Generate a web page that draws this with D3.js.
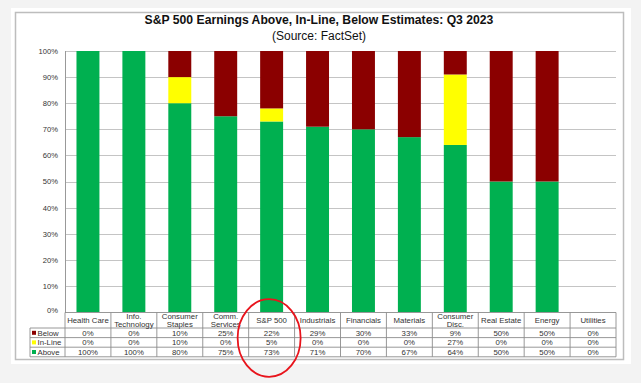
<!DOCTYPE html>
<html><head><meta charset="utf-8">
<script src="https://cdn.jsdelivr.net/npm/d3@7"></script>
<style>html,body{margin:0;padding:0;background:#f3f3f3;}svg{display:block;font-family:"Liberation Sans",Arial,sans-serif;}</style>
</head><body>
<svg id="c" width="641" height="383"></svg>
<script>
const categories = ["Health Care","Info. Technology","Consumer Staples","Comm. Services","S&P 500","Industrials","Financials","Materials","Consumer Disc.","Real Estate","Energy","Utilities"];
const headerLines = [["Health Care"],["Info.","Technology"],["Consumer","Staples"],["Comm.","Services"],["S&P 500"],["Industrials"],["Financials"],["Materials"],["Consumer","Disc."],["Real Estate"],["Energy"],["Utilities"]];
const below = [0,0,10,25,22,29,30,33,9,50,50,0];
const inLine = [0,0,10,0,5,0,0,0,27,0,0,0];
const above = [100,100,80,75,73,71,70,67,64,50,50,0];
const yTicks = [0,10,20,30,40,50,60,70,80,90,100];
const seriesNames = ["Below","In-Line","Above"];
const seriesColors = {"Above":"#00b050","In-Line":"#ffff00","Below":"#8b0000"};
const title = "S&P 500 Earnings Above, In-Line, Below Estimates: Q3 2023";
const subtitle = "(Source: FactSet)";

const svg = d3.select("#c");
// frame
svg.append("rect").attr("x",11).attr("y",8).attr("width",620).attr("height",356).attr("fill","#ffffff");
svg.append("rect").attr("x",15.5).attr("y",12.5).attr("width",608).attr("height",347).attr("fill","#ffffff").attr("stroke","#bdbdbd").attr("stroke-width",1.5);

svg.append("text").attr("x",319).attr("y",24).attr("text-anchor","middle").attr("font-size","12.2px").attr("font-weight","bold").attr("fill","#111").text(title);
svg.append("text").attr("x",319).attr("y",40).attr("text-anchor","middle").attr("font-size","12px").attr("fill","#111").text(subtitle);

const x = d3.scaleBand().domain(categories).range([65,616]).paddingInner(0.5).paddingOuter(0.25);
const xCell = d3.scaleBand().domain(categories).range([65,616]);
const y = d3.scaleLinear().domain([0,100]).range([312,51]);

// gridlines
svg.append("g").selectAll("line").data(yTicks.filter(t=>t>0)).join("line")
  .attr("x1",65).attr("x2",616).attr("y1",d=>Math.round(y(d))+0.5).attr("y2",d=>Math.round(y(d))+0.5)
  .attr("stroke","#c4c4c4").attr("stroke-width",1.2);

// y axis labels
const yAxis = d3.axisLeft(y).tickValues(yTicks).tickFormat(d=>d+"%").tickSize(0).tickPadding(7);
const ga = svg.append("g").attr("transform","translate(65,0)").call(yAxis);
ga.select(".domain").remove();
ga.selectAll("text").attr("font-size","7.6px").attr("fill","#333").attr("font-family","Liberation Sans, Arial, sans-serif");
ga.selectAll(".tick").filter(d=>d===0).select("text").attr("dy","0.1em");

// stacked bars
const rows = categories.map((c,i)=>({cat:c,"Above":above[i],"In-Line":inLine[i],"Below":below[i]}));
const stack = d3.stack().keys(["Above","In-Line","Below"])(rows);
svg.append("g").selectAll("g").data(stack).join("g").attr("fill",d=>seriesColors[d.key])
  .selectAll("rect").data(d=>d).join("rect")
  .attr("x",d=>x(d.data.cat)).attr("width",x.bandwidth())
  .attr("y",d=>y(d[1])).attr("height",d=>y(d[0])-y(d[1]));

// axis lines
svg.append("line").attr("x1",65.5).attr("x2",65.5).attr("y1",51).attr("y2",313).attr("stroke","#999");

// data table
const tTop = 312.5, hdrBot = 328, rowH = 9.6;
const tg = svg.append("g");
const lineColor = "#8c8c8c";
// horizontal lines
[tTop, hdrBot, hdrBot+rowH, hdrBot+2*rowH, hdrBot+3*rowH].forEach((yy,k)=>{
  tg.append("line").attr("x1",k===0?65:30).attr("x2",616).attr("y1",yy).attr("y2",yy).attr("stroke",lineColor).attr("stroke-width",0.9);
});
// vertical lines
categories.forEach((c,i)=>{
  tg.append("line").attr("x1",xCell(c)).attr("x2",xCell(c)).attr("y1",tTop).attr("y2",hdrBot+3*rowH).attr("stroke",lineColor).attr("stroke-width",0.9);
});
tg.append("line").attr("x1",616).attr("x2",616).attr("y1",tTop).attr("y2",hdrBot+3*rowH).attr("stroke",lineColor).attr("stroke-width",0.9);
tg.append("line").attr("x1",30).attr("x2",30).attr("y1",hdrBot).attr("y2",hdrBot+3*rowH).attr("stroke",lineColor).attr("stroke-width",0.9);

// header
categories.forEach((c,i)=>{
  const lines = headerLines[i];
  const cx = xCell(c)+xCell.bandwidth()/2;
  lines.forEach((ln,j)=>{
    const cy = lines.length===1 ? 320.5 : 316.2 + j*8;
    tg.append("text").attr("x",cx).attr("y",cy).attr("dy","0.35em").attr("text-anchor","middle")
      .attr("font-size","7.8px").attr("fill","#333").text(ln);
  });
});
// rows
const rowData = {"Below":below,"In-Line":inLine,"Above":above};
seriesNames.forEach((s,r)=>{
  const cy = hdrBot + rowH*r + rowH/2;
  tg.append("rect").attr("x",32).attr("y",cy-2).attr("width",4).attr("height",4).attr("fill",seriesColors[s]);
  tg.append("text").attr("x",37.5).attr("y",cy).attr("dy","0.35em").attr("font-size","7.8px").attr("fill","#333").text(s);
  categories.forEach((c,i)=>{
    tg.append("text").attr("x",xCell(c)+xCell.bandwidth()/2).attr("y",cy).attr("dy","0.35em").attr("text-anchor","middle")
      .attr("font-size","7.8px").attr("fill","#333").text(rowData[s][i]+"%");
  });
});

// red ellipse annotation around S&P 500 column
svg.append("ellipse").attr("cx",xCell("S&P 500")+xCell.bandwidth()/2-2.5).attr("cy",338).attr("rx",31.5).attr("ry",38.8)
  .attr("fill","none").attr("stroke","#e8141c").attr("stroke-width",1.8);
</script>
</body></html>
